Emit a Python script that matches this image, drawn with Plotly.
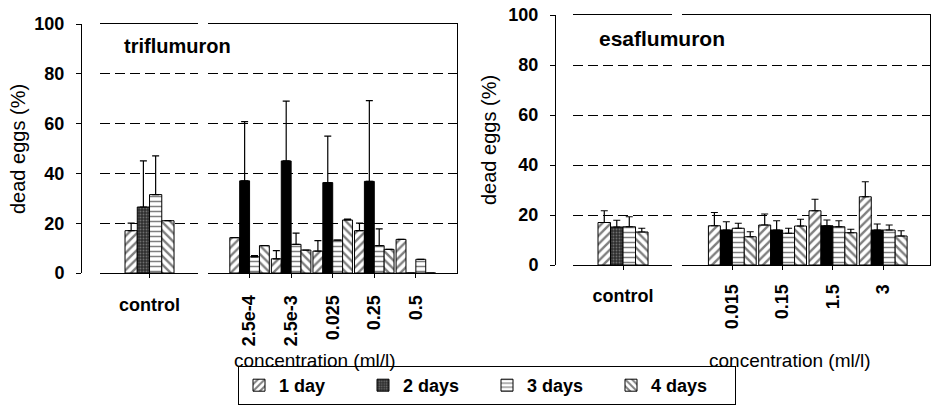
import plotly.graph_objects as go

W, H = 934, 405

# ---------------- data ----------------
series = ["1 day", "2 days", "3 days", "4 days"]
control_cat = ["control"]
tri_conc = ["2.5e-4", "2.5e-3", "0.025", "0.25", "0.5"]
esa_conc = ["0.015", "0.15", "1.5", "3"]

# triflumuron - control (1d, 2d, 3d, 4d)
tri_ctrl = [17, 26.5, 31.5, 21]
tri_ctrl_err = [3, 18.5, 15.5, 0]
# triflumuron - treatments
tri_1d = [14.2, 5.7, 8.8, 17, 13.5]
tri_1d_err = [0, 3.3, 4.2, 3, 0]
tri_2d = [37, 45, 36.3, 36.8, 0]
tri_2d_err = [23.8, 24, 18.7, 32.4, 0]
tri_3d = [6.5, 11.5, 13.2, 11, 5.5]
tri_3d_err = [0.5, 4.5, 0, 6.7, 0]
tri_4d = [11, 9.2, 21.3, 9.5, 0]
tri_4d_err = [0, 0, 0.3, 0, 0]

# esaflumuron - control
esa_ctrl = [17, 15.2, 15.3, 13.2]
esa_ctrl_err = [4.7, 2.7, 4, 1.5]
# esaflumuron - treatments
esa_1d = [15.7, 16, 21.7, 27.3]
esa_1d_err = [5.3, 4.4, 4.6, 6]
esa_2d = [14, 14, 15.7, 14]
esa_2d_err = [3.3, 3.7, 2.3, 2.4]
esa_3d = [14.7, 12.7, 15.3, 14]
esa_3d_err = [2, 2, 2.4, 2]
esa_4d = [11.3, 15.6, 12.9, 11.6]
esa_4d_err = [2, 2.7, 1.4, 2.1]

y_ticks = [0, 20, 40, 60, 80, 100]

# ---------------- styles ----------------
FONT = "Liberation Sans"

def px_x(p):
    return p / W

def px_y(p):
    return 1 - p / H

def marker_for(i, control):
    line = dict(color="black", width=1)
    if i == 0:
        return dict(color="white", line=line,
                    pattern=dict(shape="/", fgcolor="black", size=6, solidity=0.4))
    if i == 1:
        if control:
            return dict(color="#2e2e2e", line=line,
                        pattern=dict(shape=".", fgcolor="#b0b0b0", size=3, solidity=0.3))
        return dict(color="black", line=line)
    if i == 2:
        return dict(color="white", line=line,
                    pattern=dict(shape="-", fgcolor="black", size=5, solidity=0.3))
    return dict(color="white", line=line,
                pattern=dict(shape="\\", fgcolor="black", size=6, solidity=0.4))

fig = go.Figure()

def add_group(cats, vals_list, errs_list, xa, ya, control, legend):
    for i, (name, vals, errs) in enumerate(zip(series, vals_list, errs_list)):
        fig.add_trace(go.Bar(
            x=cats, y=vals, name=name, xaxis=xa, yaxis=ya,
            marker=marker_for(i, control),
            error_y=dict(type="data", array=errs, arrayminus=[0] * len(errs),
                         symmetric=False, color="black", thickness=1.2, width=3.5),
            legendgroup=name, showlegend=legend,
        ))

# control values are one per series
add_group(control_cat, [[v] for v in tri_ctrl], [[e] for e in tri_ctrl_err], "x", "y", True, True)
add_group(tri_conc, [tri_1d, tri_2d, tri_3d, tri_4d],
          [tri_1d_err, tri_2d_err, tri_3d_err, tri_4d_err], "x2", "y2", False, False)
add_group(control_cat, [[v] for v in esa_ctrl], [[e] for e in esa_ctrl_err], "x3", "y3", True, False)
add_group(esa_conc, [esa_1d, esa_2d, esa_3d, esa_4d],
          [esa_1d_err, esa_2d_err, esa_3d_err, esa_4d_err], "x4", "y4", False, False)

tickfont = dict(family=FONT, size=18, color="black", weight="bold")
grid = dict(showgrid=True, gridcolor="black", gridwidth=1, griddash="10px,5px")

def xaxis(domain, rng, anchor, angle, standoff):
    return dict(domain=domain, range=rng, anchor=anchor, type="category",
                showline=True, linecolor="black", linewidth=1, mirror=True,
                ticks="outside", ticklen=4, tickcolor="black",
                tickangle=angle, tickfont=tickfont, showgrid=False,
                ticklabelstandoff=standoff, automargin=False, fixedrange=True)

def yaxis_main(domain, pos):
    return dict(domain=domain, range=[0, 100], anchor="free", position=pos,
                tickvals=y_ticks, showline=True, linecolor="black", linewidth=1,
                ticks="outside", ticklen=5, tickcolor="black", tickfont=tickfont,
                ticklabelstandoff=8, zeroline=False, automargin=False, **grid)

def yaxis_side(domain, anchor):
    # right-hand frame edge of a treatment sub-panel
    return dict(domain=domain, range=[0, 100], anchor=anchor, side="right",
                tickvals=y_ticks, showline=True, linecolor="black", linewidth=1.3,
                ticks="", showticklabels=False,
                zeroline=False, automargin=False, **grid)

domL = [px_y(273), px_y(24)]
domR = [px_y(265), px_y(15)]

fig.update_layout(
    width=W, height=H,
    margin=dict(l=0, r=0, t=0, b=0),
    paper_bgcolor="white", plot_bgcolor="white",
    barmode="group", bargap=0.05, bargroupgap=0,
    font=dict(family=FONT, color="black"),
    xaxis=xaxis([px_x(100), px_x(198)], [-0.96, 0.94], "y", 0, 11),
    xaxis2=xaxis([px_x(208), px_x(457)], [-1.0, 4.99], "y2", -90, 10),
    xaxis3=xaxis([px_x(573), px_x(672)], [-0.95, 0.93], "y3", 0, 10),
    xaxis4=xaxis([px_x(682), px_x(930)], [-1.0, 3.93], "y4", -90, 7),
    yaxis=yaxis_main(domL, px_x(81)),
    yaxis2=yaxis_side(domL, "x2"),
    yaxis3=yaxis_main(domR, px_x(555)),
    yaxis4=yaxis_side(domR, "x4"),
    legend=dict(orientation="h", x=px_x(487), xanchor="center",
                y=0, yanchor="bottom",
                bordercolor="black", borderwidth=1, bgcolor="white",
                font=dict(family=FONT, size=18, color="black", weight="bold"),
                entrywidth=79, traceorder="normal"),
    showlegend=True,
)

def ann(text, x, y, size, angle=0, weight="normal", xanchor="center"):
    fig.add_annotation(text=text, xref="paper", yref="paper",
                       x=px_x(x), y=px_y(y), xanchor=xanchor, yanchor="middle",
                       showarrow=False, textangle=angle,
                       font=dict(family=FONT, size=size, color="black", weight=weight))

ann("triflumuron", 122, 46, 20, weight="bold", xanchor="left")
ann("esaflumuron", 597, 38, 21, weight="bold", xanchor="left")
ann("dead eggs (%)", 18, 149, 20, angle=-90)
ann("dead eggs (%)", 489, 140, 20, angle=-90)
ann("concentration (ml/l)", 315, 360, 19)
ann("concentration (ml/l)", 790, 360, 19)

fig.write_html("out.html")
